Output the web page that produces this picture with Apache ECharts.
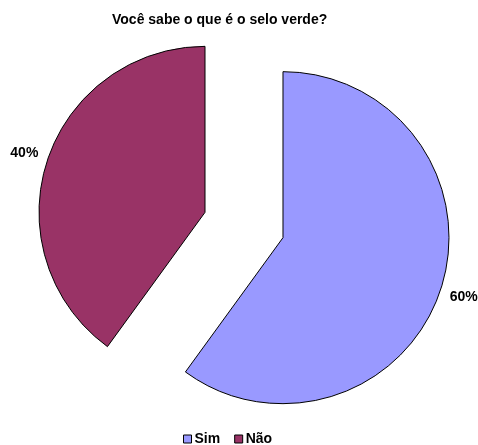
<!DOCTYPE html>
<html>
<head>
<meta charset="utf-8">
<script src="https://cdn.jsdelivr.net/npm/echarts@6/dist/echarts.min.js"></script>
<style>
  html, body { margin: 0; padding: 0; background: #fff; }
  #chart { width: 478px; height: 445px; }
</style>
</head>
<body>
<div id="chart"></div>
<script>
// Survey answers: share of respondents (percent)
const categories = ['Sim', 'Não'];
const values = [60, 40];
const colors = ['#9999FF', '#993366'];

const FONT = '"Liberation Sans", Arial, sans-serif';

const chart = echarts.init(document.getElementById('chart'), null, { renderer: 'canvas' });

chart.setOption({
  backgroundColor: '#ffffff',
  animation: false,
  title: {
    text: 'Você sabe o que é o selo verde?',
    left: 107,
    top: 8,
    textStyle: { fontFamily: FONT, fontSize: 14, fontWeight: 'bold', color: '#000' }
  },
  legend: {
    left: 178,
    top: 427,
    itemWidth: 8,
    itemHeight: 8,
    itemGap: 14,
    icon: 'rect',
    selectedMode: false,
    itemStyle: { borderColor: '#000', borderWidth: 1 },
    textStyle: { fontFamily: FONT, fontSize: 14, fontWeight: 'bold', color: '#000', padding: [0, 0, 0, -2] },
    data: categories
  },
  series: [{
    type: 'pie',
    center: [244, 225],
    radius: 166,
    startAngle: 90,
    clockwise: true,
    selectedMode: 'multiple',
    selectedOffset: 41,
    avoidLabelOverlap: false,
    itemStyle: { borderColor: '#000', borderWidth: 1 },
    emphasis: { disabled: true },
    label: {
      show: true,
      position: 'outside',
      formatter: p => p.value + '%',
      fontFamily: FONT,
      fontSize: 14,
      fontWeight: 'bold',
      color: '#000',
      distanceToLabelLine: -15
    },
    labelLine: { show: false, length: 25, length2: 0 },
    data: categories.map((name, i) => ({
      name,
      value: values[i],
      selected: true,
      itemStyle: { color: colors[i] }
    }))
  }]
});
</script>
</body>
</html>
